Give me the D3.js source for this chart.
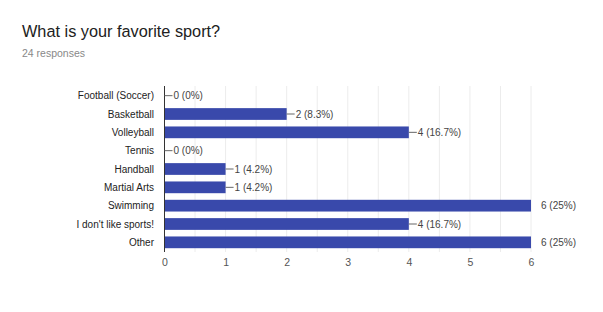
<!DOCTYPE html>
<html>
<head>
<meta charset="utf-8">
<script src="https://cdn.jsdelivr.net/npm/d3@7"></script>
<style>
  body { margin: 0; background: #fff; }
  text { font-family: Arial, "Liberation Sans", sans-serif; }
</style>
</head>
<body>
<div id="chart"></div>
<script>
const categories = ["Football (Soccer)", "Basketball", "Volleyball", "Tennis", "Handball",
  "Martial Arts", "Swimming", "I don't like sports!", "Other"];
const counts = [0, 2, 4, 0, 1, 1, 6, 4, 6];
const percents = ["0%", "8.3%", "16.7%", "0%", "4.2%", "4.2%", "25%", "16.7%", "25%"];
const tickValues = [0, 1, 2, 3, 4, 5, 6];
const gridValues = d3.range(0, 6.01, 0.5);

const width = 603, height = 312;
const svg = d3.select("#chart").append("svg")
  .attr("width", width)
  .attr("height", height);

svg.append("text")
  .attr("x", 22).attr("y", 37)
  .attr("font-family", "Roboto, Arial, sans-serif")
  .attr("font-size", 16.3)
  .attr("fill", "#212121")
  .text("What is your favorite sport?");

svg.append("text")
  .attr("x", 22).attr("y", 57)
  .attr("font-family", "Roboto, Arial, sans-serif")
  .attr("font-size", 10.5)
  .attr("fill", "#888")
  .text("24 responses");

const x = d3.scaleLinear().domain([0, 6]).range([164.5, 531]);
const y = d3.scaleBand().domain(categories).range([86.5, 251.5]).paddingInner(0.36).paddingOuter(0.18);

const g = svg.append("g");

g.selectAll("line.grid")
  .data(gridValues.filter(d => d > 0))
  .join("line")
  .attr("class", "grid")
  .attr("x1", d => x(d)).attr("x2", d => x(d))
  .attr("y1", 86).attr("y2", 252)
  .attr("stroke", "#ececec");

g.selectAll("rect.bar")
  .data(categories)
  .join("rect")
  .attr("class", "bar")
  .attr("x", x(0))
  .attr("y", d => y(d))
  .attr("width", (d, i) => x(counts[i]) - x(0))
  .attr("height", y.bandwidth())
  .attr("fill", "#3949ab");

// axis line
g.append("line")
  .attr("x1", x(0)).attr("x2", x(0))
  .attr("y1", 86).attr("y2", 252)
  .attr("stroke", "#333");

// leader lines and value labels
categories.forEach((c, i) => {
  const cy = y(c) + y.bandwidth() / 2;
  const xe = x(counts[i]);
  const full = counts[i] === 6;
  if (!full) {
    g.append("line")
      .attr("x1", xe).attr("x2", xe + 8)
      .attr("y1", cy).attr("y2", cy)
      .attr("stroke", "#666");
  }
  g.append("text")
    .attr("x", full ? xe + 10 : xe + 9)
    .attr("y", cy)
    .attr("dy", "0.35em")
    .attr("font-size", 10)
    .attr("fill", "#444")
    .text(`${counts[i]} (${percents[i]})`);
});

// category labels
g.selectAll("text.cat")
  .data(categories)
  .join("text")
  .attr("class", "cat")
  .attr("x", 154)
  .attr("y", d => y(d) + y.bandwidth() / 2)
  .attr("dy", "0.35em")
  .attr("text-anchor", "end")
  .attr("font-size", 10)
  .attr("fill", "#222")
  .text(d => d);

// x axis tick labels
const xAxis = d3.axisBottom(x).tickValues(tickValues).tickFormat(d3.format("d")).tickSize(0).tickPadding(0);
const ax = svg.append("g").attr("transform", "translate(0,259)").call(xAxis);
ax.select(".domain").remove();
ax.selectAll("text")
  .attr("font-size", 10.5)
  .attr("fill", "#555")
  .attr("font-family", "Arial, 'Liberation Sans', sans-serif");
</script>
</body>
</html>
